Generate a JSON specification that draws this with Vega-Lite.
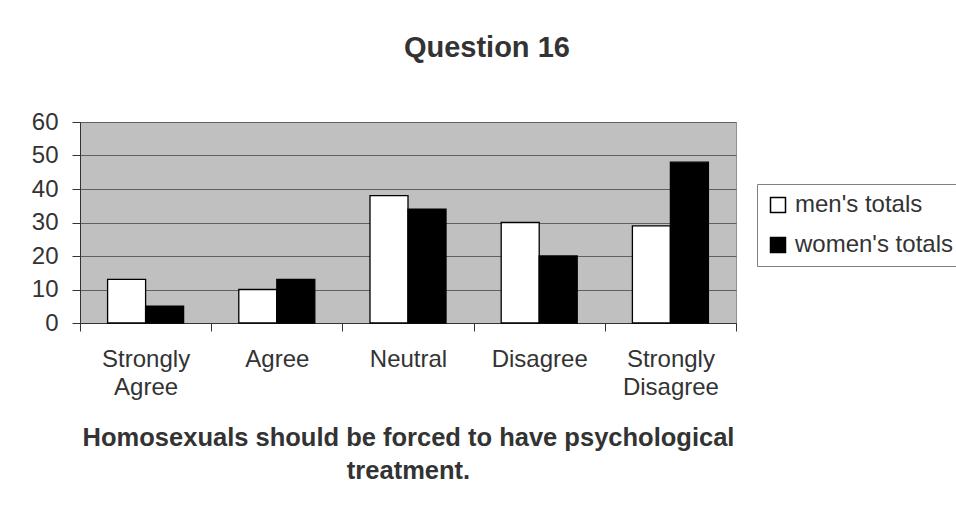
{
  "$schema": "https://vega.github.io/schema/vega-lite/v6.json",
  "width": 656,
  "height": 201,
  "autosize": {"type": "none"},
  "padding": {"left": 80, "top": 122, "right": 220, "bottom": 186},
  "background": "white",
  "title": {
    "text": "Question 16",
    "anchor": "middle",
    "frame": "bounds",
    "font": "Liberation Sans",
    "fontSize": 29,
    "fontWeight": "bold",
    "color": "#333333",
    "offset": 47,
    "dx": -10
  },
  "data": {
    "values": [
      {"response": "Strongly Agree", "group": "men's totals", "count": 13},
      {"response": "Strongly Agree", "group": "women's totals", "count": 5},
      {"response": "Agree", "group": "men's totals", "count": 10},
      {"response": "Agree", "group": "women's totals", "count": 13},
      {"response": "Neutral", "group": "men's totals", "count": 38},
      {"response": "Neutral", "group": "women's totals", "count": 34},
      {"response": "Disagree", "group": "men's totals", "count": 30},
      {"response": "Disagree", "group": "women's totals", "count": 20},
      {"response": "Strongly Disagree", "group": "men's totals", "count": 29},
      {"response": "Strongly Disagree", "group": "women's totals", "count": 48}
    ]
  },
  "mark": {"type": "bar", "stroke": "black", "strokeWidth": 1.3},
  "encoding": {
    "x": {
      "field": "response",
      "type": "nominal",
      "sort": ["Strongly Agree", "Agree", "Neutral", "Disagree", "Strongly Disagree"],
      "scale": {"paddingInner": 0, "paddingOuter": 0},
      "axis": {
        "title": ["Homosexuals should be forced to have psychological", "treatment."],
        "titleFont": "Liberation Sans",
        "titleFontSize": 25.5,
        "titleFontWeight": "bold",
        "titleColor": "#333333",
        "titleLineHeight": 33,
        "titlePadding": 26,
        "labelAngle": 0,
        "labelExpr": "split(datum.label, ' ')",
        "labelFont": "Liberation Sans",
        "labelFontSize": 24,
        "labelColor": "#333333",
        "labelLineHeight": 28,
        "labelPadding": 16,
        "tickBand": "extent",
        "tickSize": 8,
        "tickColor": "#333333",
        "domainColor": "#333333",
        "grid": false
      }
    },
    "xOffset": {
      "field": "group",
      "type": "nominal",
      "sort": ["men's totals", "women's totals"],
      "scale": {"paddingInner": 0, "paddingOuter": 0.726}
    },
    "y": {
      "field": "count",
      "type": "quantitative",
      "scale": {"domain": [0, 60], "nice": false},
      "axis": {
        "title": null,
        "values": [0, 10, 20, 30, 40, 50, 60],
        "labelFont": "Liberation Sans",
        "labelFontSize": 24,
        "labelColor": "#333333",
        "labelPadding": 14,
        "tickSize": 8,
        "tickColor": "#333333",
        "domainColor": "#333333",
        "gridColor": "#606060",
        "gridOpacity": 1
      }
    },
    "fill": {
      "field": "group",
      "type": "nominal",
      "scale": {"domain": ["men's totals", "women's totals"], "range": ["#ffffff", "#000000"]},
      "legend": {
        "title": null,
        "orient": "none",
        "legendX": 677,
        "legendY": 62,
        "strokeColor": "#808080",
        "padding": 9,
        "symbolType": "square",
        "symbolSize": 225,
        "symbolStrokeColor": "#000000",
        "symbolStrokeWidth": 1.5,
        "labelFont": "Liberation Sans",
        "labelFontSize": 24,
        "labelColor": "#333333",
        "labelOffset": 5,
        "rowPadding": 16
      }
    }
  },
  "config": {
    "view": {"fill": "#c0c0c0", "stroke": "#909090"}
  }
}
